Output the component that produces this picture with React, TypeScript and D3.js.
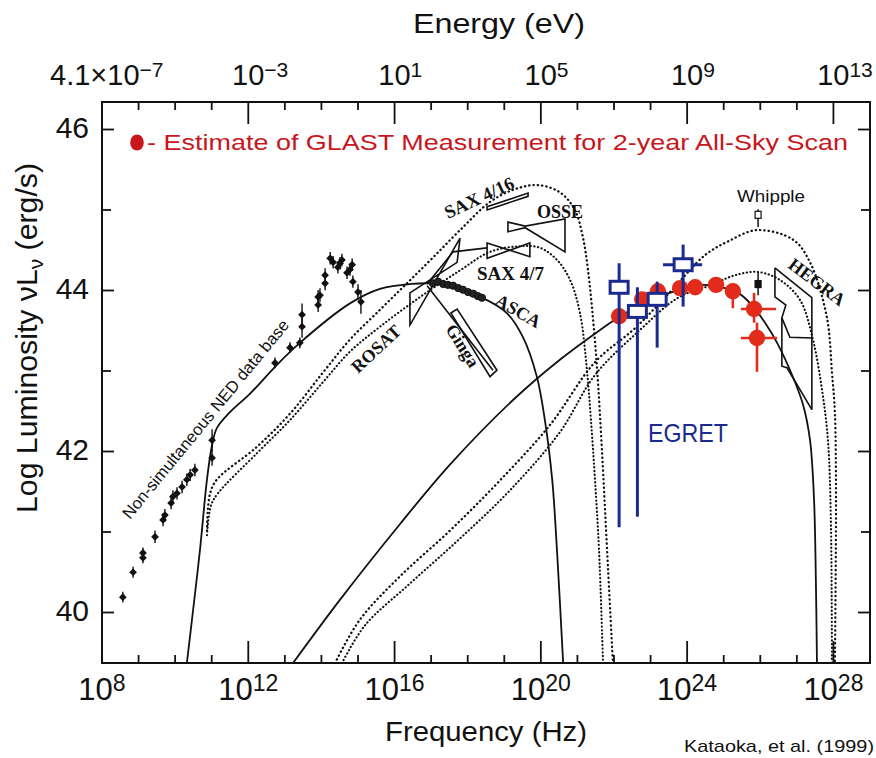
import React from 'react';
import * as d3 from 'd3';

type P = [number, number];

// ---- Model curves: [log10 frequency (Hz), log10 luminosity (erg/s)] ----
const synchSolid: P[] = [
  [10.32, 39.37], [10.46, 39.91], [10.68, 40.78], [10.87, 41.65], [11.01, 42.08], [11.14, 42.29],
  [11.5, 42.49], [12.05, 42.72], [12.79, 43.08], [13.41, 43.35], [14.78, 43.84], [15.6, 44.02],
  [16.42, 44.08], [17.24, 44.08], [18.34, 43.92], [19.07, 43.72], [19.51, 43.42], [19.89, 42.93],
  [20.11, 42.39], [20.31, 41.65], [20.44, 40.78], [20.61, 39.37],
];
const synchDot1: P[] = [
  [10.87, 41.02], [10.95, 41.47], [11.14, 41.65], [12.24, 42.06], [13.14, 42.47], [14.04, 42.98],
  [14.78, 43.39], [15.6, 43.76], [16.34, 44.09], [17.05, 44.41], [17.79, 44.75], [18.61, 45.1],
  [19.24, 45.25], [19.89, 45.31], [20.52, 45.22], [20.93, 45.0], [21.15, 44.66], [21.29, 44.25],
  [21.43, 43.63], [21.54, 43.01], [21.67, 42.02], [21.81, 40.78], [21.97, 39.37],
];
const synchDot2: P[] = [
  [10.87, 40.96], [10.98, 41.33], [11.17, 41.48], [12.24, 41.98], [13.14, 42.39], [14.04, 42.86],
  [14.78, 43.24], [15.6, 43.55], [16.7, 43.92], [17.79, 44.25], [18.61, 44.48], [19.43, 44.55],
  [19.98, 44.53], [20.44, 44.38], [20.8, 44.13], [21.07, 43.72], [21.26, 43.01], [21.37, 42.39],
  [21.48, 41.65], [21.59, 40.78], [21.7, 39.37],
];
const icSolid: P[] = [
  [13.22, 39.37], [14.51, 40.16], [16.15, 41.1], [17.52, 41.84], [19.24, 42.64], [20.52, 43.14],
  [21.62, 43.51], [22.14, 43.67], [22.71, 43.82], [23.81, 44.01], [24.49, 44.07], [25.39, 43.97],
  [25.8, 43.8], [26.13, 43.6], [26.46, 43.35], [26.87, 42.95], [27.17, 42.58], [27.36, 42.14],
  [27.47, 41.4], [27.52, 40.4], [27.55, 39.37],
];
const icDot1: P[] = [
  [14.37, 39.37], [15.05, 39.91], [16.15, 40.45], [17.52, 41.02], [18.88, 41.64], [20.25, 42.33],
  [21.48, 43.11], [22.57, 43.53], [23.53, 43.98], [24.49, 44.44], [25.12, 44.61], [25.91, 44.75],
  [26.9, 44.63], [27.36, 44.35], [27.82, 43.67], [27.96, 42.98], [28.04, 42.48], [28.07, 41.4],
  [28.04, 39.37],
];
const icDot2: P[] = [
  [14.56, 39.37], [15.19, 39.84], [16.42, 40.36], [17.79, 40.92], [19.16, 41.52], [20.52, 42.24],
  [21.48, 42.95], [22.71, 43.51], [23.75, 43.91], [24.68, 44.07], [25.31, 44.19], [25.94, 44.23],
  [26.54, 44.13], [27.09, 43.88], [27.44, 43.39], [27.69, 42.76], [27.85, 42.14], [27.93, 41.15],
  [27.96, 39.37],
];

// ---- Non-simultaneous NED data base ----
const nedNu = [8.57, 8.85, 9.12, 9.12, 9.45, 9.67, 9.72, 9.89, 9.94, 10.05, 10.19, 10.32, 10.41, 10.54,
  11.01, 11.01, 12.73, 13.14, 13.41, 13.47, 13.47, 13.91, 13.91, 13.96, 14.1, 14.1, 14.24, 14.32,
  14.45, 14.51, 14.56, 14.7, 14.78, 14.84, 14.86, 15.0, 15.08];
const nedL = [40.19, 40.5, 40.68, 40.74, 40.94, 41.15, 41.21, 41.36, 41.44, 41.48, 41.56, 41.65, 41.71, 41.77,
  41.92, 42.14, 43.1, 43.29, 43.35, 43.55, 43.7, 43.82, 43.92, 43.94, 44.09, 44.19, 44.4, 44.35,
  44.29, 44.34, 44.38, 44.22, 44.26, 44.32, 44.11, 43.98, 43.86];
const nedErr = [0.03, 0.03, 0.03, 0.03, 0.04, 0.04, 0.04, 0.04, 0.04, 0.04, 0.04, 0.04, 0.04, 0.04,
  0.06, 0.1, 0.03, 0.03, 0.03, 0.1, 0.1, 0.05, 0.05, 0.05, 0.05, 0.05, 0.04, 0.04,
  0.04, 0.04, 0.04, 0.04, 0.04, 0.04, 0.04, 0.06, 0.11];

// ---- ASCA spectrum ----
const ascaNu = [17.05, 17.19, 17.33, 17.46, 17.6, 17.74, 17.87, 18.01, 18.15, 18.28, 18.39];
const ascaL = [44.09, 44.11, 44.08, 44.07, 44.06, 44.03, 44.01, 43.98, 43.96, 43.93, 43.91];

// ---- Instrument bow-ties ----
const rosatBow: P[] = [[16.42, 43.97], [17.71, 44.35], [17.79, 44.65], [16.42, 43.57]];
const rosatTail: P[] = [[16.89, 44.08], [17.6, 44.48], [18.53, 44.53]];
const sax47Bow: P[] = [[18.53, 44.59], [19.7, 44.42], [19.7, 44.59], [18.53, 44.4]];
const sax416Bar: P[] = [[18.53, 45.04], [19.65, 45.21], [19.65, 45.17], [18.53, 45.0]];
const osseBow: P[] = [[19.1, 44.85], [19.57, 44.8], [20.66, 44.89], [20.66, 44.48], [19.57, 44.78], [19.1, 44.73]];
const gingaLine: P[] = [[16.89, 44.06], [18.69, 43.01]];
const gingaBar: P[] = [[17.54, 43.72], [17.71, 43.77], [18.8, 43.01], [18.61, 42.93]];
const hegraA: P[] = [[26.4, 44.28], [27.41, 43.91], [27.41, 42.52]];
const hegraB: P[] = [[26.4, 44.28], [26.4, 43.92], [26.7, 43.82], [26.59, 43.66], [26.81, 43.42], [27.41, 43.41]];
const hegraC: P[] = [[26.59, 43.66], [26.59, 43.06], [26.73, 43.04], [27.41, 42.52]];

// ---- EGRET ----
const egretNu = [22.14, 22.64, 23.18, 23.89];
const egretL = [44.04, 43.74, 43.89, 44.32];
const egretLo = [41.06, 41.19, 43.29, 43.8];
const egretHi = [44.34, 44.04, 44.11, 44.57];
const egretNuLo = [null, null, null, 23.34];
const egretNuHi = [null, null, null, 24.41];

// ---- GLAST estimate ----
const glastNu = [22.14, 22.77, 23.2, 23.81, 24.22, 24.79, 25.25, 25.83, 25.91];
const glastL = [43.68, 43.89, 43.99, 44.03, 44.04, 44.07, 43.99, 43.77, 43.41];
const glastLo = [null, null, null, null, null, null, 43.78, 43.6, 42.99];
const glastHi = [null, null, null, null, null, null, null, 43.97, 43.6];
const glastNuLo = [null, null, null, null, null, null, null, 25.47, 25.47];
const glastNuHi = [null, null, null, null, null, null, null, 26.43, 26.46];

// ---- Whipple / TeV points ----
const tevNu = [25.94, 25.94];
const tevL = [44.94, 44.08];
const tevLo = [44.79, 43.94];
const tevHi = [45.01, 44.23];
const tevOpen = [true, false];

// ---- Axis ticks ----
const freqLabelExp = [8, 12, 16, 20, 24, 28];
const energyLabelExp = ['−3', '1', '5', '9', '13'];
const yTickLabels = [40, 42, 44, 46];

const SANS = "'Liberation Sans', Arial, Helvetica, sans-serif";
const SERIF = "'Liberation Serif', 'Times New Roman', serif";
const RED = '#e32b1c';
const BLUE = '#1b2a8e';

export default function App() {
  const X0 = 102, X1 = 870, Y0 = 102, Y1 = 663;
  const x = d3.scaleLinear().domain([8, 29]).range([X0, X1]);
  const y = d3.scaleLinear().domain([40, 46]).range([612.5, 129.5]);
  const line = d3.line<P>().x(d => x(d[0])).y(d => y(d[1])).curve(d3.curveCatmullRom.alpha(0.5));
  const poly = d3.line<P>().x(d => x(d[0])).y(d => y(d[1]));
  const marker = d3.symbol().type(d3.symbolSquare).size(30);

  const xTicks = d3.range(9, 29);
  const yTicks = d3.range(40, 47);

  const shapeStyle = { fill: 'none', stroke: '#111', strokeWidth: 1.6 } as const;
  const dotA = { fill: 'none', stroke: '#111', strokeWidth: 2.3, strokeDasharray: '0.3 4', strokeLinecap: 'round' } as const;
  const dotB = { fill: 'none', stroke: '#111', strokeWidth: 2.1, strokeDasharray: '0.3 3.4', strokeLinecap: 'round' } as const;

  return (
    <svg width={876} height={758} style={{ position: 'absolute', left: 0, top: 0, background: '#fff' }}>
      <defs>
        <clipPath id="plot"><rect x={X0} y={Y0} width={X1 - X0} height={Y1 - Y0} /></clipPath>
      </defs>
      <rect x={0} y={0} width={876} height={758} fill="#fff" />

      <g clipPath="url(#plot)">
        {/* model curves */}
        <path d={line(synchSolid)!} fill="none" stroke="#111" strokeWidth={1.8} />
        <path d={line(icSolid)!} fill="none" stroke="#111" strokeWidth={1.8} />
        <path d={line(synchDot1)!} {...dotA} />
        <path d={line(synchDot2)!} {...dotB} />
        <path d={line(icDot1)!} {...dotA} />
        <path d={line(icDot2)!} {...dotB} />

        {/* instrument bow-ties */}
        <path d={poly(rosatBow)! + 'Z'} {...shapeStyle} />
        <path d={poly(rosatTail)!} {...shapeStyle} />
        <path d={poly(sax47Bow)! + 'Z'} {...shapeStyle} />
        <path d={poly(sax416Bar)! + 'Z'} {...shapeStyle} />
        <path d={poly(osseBow)! + 'Z'} {...shapeStyle} />
        <path d={poly(gingaLine)!} {...shapeStyle} />
        <path d={poly(gingaBar)! + 'Z'} {...shapeStyle} />
        <path d={poly(hegraA)!} {...shapeStyle} />
        <path d={poly(hegraB)!} {...shapeStyle} />
        <path d={poly(hegraC)!} {...shapeStyle} />

        {/* NED points */}
        {nedNu.map((n, i) => (
          <g key={'ned' + i}>
            <line x1={x(n)} x2={x(n)} y1={y(nedL[i] - nedErr[i]) + 3} y2={y(nedL[i] + nedErr[i]) - 3} stroke="#111" strokeWidth={1.4} />
            <path d={marker()!} transform={`translate(${x(n)},${y(nedL[i])}) rotate(45)`} fill="#111" />
          </g>
        ))}
        {/* ASCA spectrum */}
        {ascaNu.map((n, i) => (
          <circle key={'asca' + i} cx={x(n)} cy={y(ascaL[i])} r={3.6} fill="#222" stroke="#111" strokeWidth={1} />
        ))}

        {/* TeV points */}
        {tevNu.map((n, i) => (
          <g key={'tev' + i}>
            <line x1={x(n)} x2={x(n)} y1={y(tevLo[i])} y2={y(tevHi[i])} stroke="#111" strokeWidth={1.5} />
            <rect x={x(n) - 3} y={y(tevL[i]) - 3.5} width={6} height={7} fill={tevOpen[i] ? '#fff' : '#111'} stroke="#111" strokeWidth={1.2} />
          </g>
        ))}

        {/* GLAST estimate */}
        {glastNu.map((n, i) => (
          <g key={'gl' + i}>
            {glastLo[i] !== null && (
              <line x1={x(n)} x2={x(n)} y1={y(glastLo[i] as number)} y2={y((glastHi[i] ?? glastL[i]) as number)} stroke={RED} strokeWidth={2.6} />
            )}
            {glastNuLo[i] !== null && (
              <line x1={x(glastNuLo[i] as number)} x2={x(glastNuHi[i] as number)} y1={y(glastL[i])} y2={y(glastL[i])} stroke={RED} strokeWidth={2.6} />
            )}
            <circle cx={x(n)} cy={y(glastL[i])} r={8.2} fill={RED} />
          </g>
        ))}

        {/* EGRET */}
        {egretNu.map((n, i) => (
          <g key={'eg' + i}>
            <line x1={x(n)} x2={x(n)} y1={y(egretLo[i])} y2={y(egretHi[i])} stroke={BLUE} strokeWidth={3} />
            {egretNuLo[i] !== null && (
              <line x1={x(egretNuLo[i] as number)} x2={x(egretNuHi[i] as number)} y1={y(egretL[i])} y2={y(egretL[i])} stroke={BLUE} strokeWidth={3} />
            )}
            <rect x={x(n) - 9} y={y(egretL[i]) - 6} width={18} height={12} fill="#fff" stroke={BLUE} strokeWidth={3} />
          </g>
        ))}
      </g>

      {/* frame */}
      <rect x={X0} y={Y0} width={X1 - X0} height={Y1 - Y0} fill="none" stroke="#111" strokeWidth={2} />

      {/* x ticks (bottom & top) */}
      {xTicks.map(t => {
        const major = (t - 8) % 4 === 0;
        const len = major ? 22 : 8;
        return (
          <g key={'xt' + t} stroke="#111" strokeWidth={1.8}>
            <line x1={x(t)} x2={x(t)} y1={Y1} y2={Y1 - len} />
            <line x1={x(t)} x2={x(t)} y1={Y0} y2={Y0 + len} />
          </g>
        );
      })}
      {/* y ticks (left & right) */}
      {yTicks.map(t => {
        const len = t % 2 === 0 ? 12 : 9;
        return (
          <g key={'yt' + t} stroke="#111" strokeWidth={1.8}>
            <line x1={X0} x2={X0 + len} y1={y(t)} y2={y(t)} />
            <line x1={X1} x2={X1 - len} y1={y(t)} y2={y(t)} />
          </g>
        );
      })}

      {/* bottom tick labels */}
      {freqLabelExp.map(e => (
        <text key={'bl' + e} x={x(e)} y={700} textAnchor="middle" fontFamily={SANS} fontSize={31} fill="#111">
          10<tspan dy={-9} fontSize={23}>{e}</tspan>
        </text>
      ))}
      {/* top tick labels */}
      <text x={50} y={85} fontFamily={SANS} fontSize={29} fill="#111">
        4.1×10<tspan dy={-8} fontSize={21}>−7</tspan>
      </text>
      {energyLabelExp.map((e, i) => {
        const px = x(12 + 4 * i);
        return (
          <g key={'tl' + e}>
            <text x={px + 16} y={85} textAnchor="end" fontFamily={SANS} fontSize={29} fill="#111">10</text>
            <text x={px + 16} y={77} fontFamily={SANS} fontSize={21} fill="#111">{e}</text>
          </g>
        );
      })}
      {/* y tick labels */}
      {yTickLabels.map(t => (
        <text key={'yl' + t} x={89} y={y(t) + 8} textAnchor="end" fontFamily={SANS} fontSize={30} fill="#111">{t}</text>
      ))}

      {/* axis titles */}
      <text x={413} y={33} fontFamily={SANS} fontSize={27} fill="#111" textLength={172} lengthAdjust="spacingAndGlyphs">Energy  (eV)</text>
      <text x={385} y={741} fontFamily={SANS} fontSize={28} fill="#111" textLength={202} lengthAdjust="spacingAndGlyphs">Frequency  (Hz)</text>
      <text transform="translate(37,513) rotate(-90)" fontFamily={SANS} fontSize={29} fill="#111" textLength={350} lengthAdjust="spacingAndGlyphs">
        Log Luminosity νL<tspan dy={6} fontSize={20}>ν</tspan><tspan dy={-6}> (erg/s)</tspan>
      </text>
      <text x={684} y={752} fontFamily={SANS} fontSize={17} fill="#111" textLength={190} lengthAdjust="spacingAndGlyphs">Kataoka, et al. (1999)</text>

      {/* legend */}
      <ellipse cx={137} cy={142.5} rx={6.8} ry={8} fill="#c8161d" />
      <text x={147} y={150} fontFamily={SANS} fontSize={22} fill="#c8161d" textLength={701} lengthAdjust="spacingAndGlyphs">- Estimate of GLAST Measurement for 2-year All-Sky Scan</text>

      {/* annotations */}
      <text transform="translate(130,520) rotate(-50.6)" fontFamily={SANS} fontSize={16.5} fill="#111" textLength={252} lengthAdjust="spacingAndGlyphs">Non-simultaneous NED data base</text>
      <text x={648} y={442} fontFamily={SANS} fontSize={25} fill={BLUE} textLength={80} lengthAdjust="spacingAndGlyphs">EGRET</text>
      <text x={737} y={202} fontFamily={SANS} fontSize={16} fill="#111" textLength={68} lengthAdjust="spacingAndGlyphs">Whipple</text>

      <g fontFamily={SERIF} fontWeight="bold" fill="#111">
        <text transform="translate(448,219) rotate(-25)" fontSize={18.5}>SAX 4/16</text>
        <text x={537} y={218} fontSize={18}>OSSE</text>
        <text x={477} y={280} fontSize={19}>SAX 4/7</text>
        <text transform="translate(494,304) rotate(30)" fontSize={18}>ASCA</text>
        <text transform="translate(358,374) rotate(-43)" fontSize={18}>ROSAT</text>
        <text transform="translate(445,329) rotate(58)" fontSize={18}>Ginga</text>
        <text transform="translate(787,267) rotate(37)" fontSize={18}>HEGRA</text>
      </g>
    </svg>
  );
}
